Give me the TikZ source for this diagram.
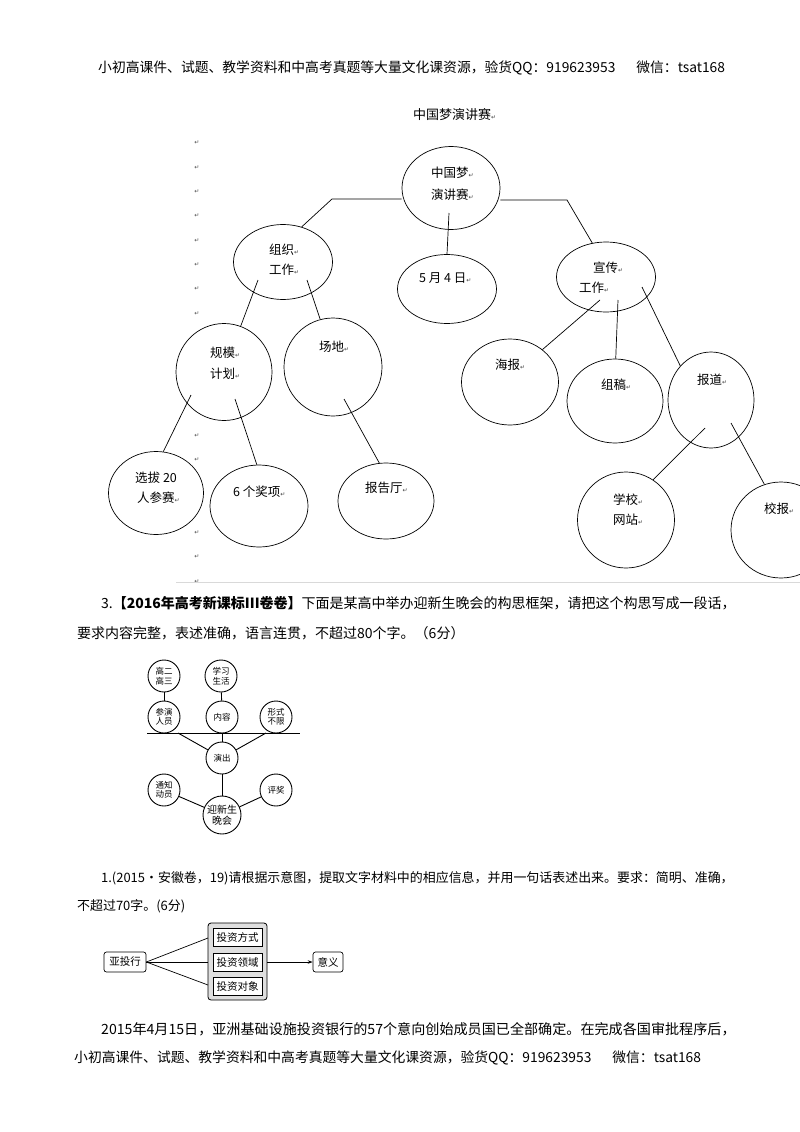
\documentclass[tikz,border=0pt]{standalone}
\usepackage{fontspec}
\setmainfont{Liberation Serif}
\newfontfamily\cjk{Noto Sans CJK SC}
\newfontfamily\dv{DejaVu Sans}
\usetikzlibrary{arrows.meta,shapes.geometric}
\newcommand{\retm}{{\dv\fontsize{6}{6}\selectfont\color{black!75}↵}}
\begin{document}
\begin{tikzpicture}[x=1pt,y=-1pt,
  bub/.style={draw,ellipse,line width=0.7pt,fill=white,inner sep=0pt},
  tx/.style={anchor=west,inner sep=0pt,font=\cjk\fontsize{12.5}{13}\selectfont},
  ln/.style={line width=0.7pt},
  rmark/.style={inner sep=0pt,font=\dv\fontsize{6}{6}\selectfont,text=black!70},
  sc/.style={draw,circle,line width=0.9pt,fill=white,minimum size=32pt,inner sep=0pt,align=center,font=\cjk\fontsize{8.5}{9.5}\selectfont},
  para/.style={anchor=west,inner sep=0pt,font=\cjk\fontsize{14}{14}\selectfont},
  bx/.style={draw,rounded corners=2.5pt,line width=0.7pt,fill=white,inner sep=0pt,font=\cjk\fontsize{10.5}{11}\selectfont},
]
\useasboundingbox (0,0) rectangle (800,1132);
\fill[white] (0,0) rectangle (800,1132);

% header
\node[para,font=\cjk\fontsize{13.8}{14}\selectfont] (hdr) at (98,68) {小初高课件、试题、教学资料和中高考真题等大量文化课资源，验货QQ：919623953\hspace{21pt}微信：tsat168};

% ---------- diagram 1 ----------
\node[tx,font=\cjk\fontsize{13}{13}\selectfont] (title) at (413,115) {中国梦演讲赛\retm};
\foreach \k in {0,...,18}{\node[rmark] (rm\k) at (197,{143+24.35*\k}) {↵};}
\draw[gray!30,line width=0.6pt] (176,582) -- (800,582);

\node[bub,minimum width=98pt,minimum height=83pt] (root) at (451,188) {};
\node[bub,minimum width=99pt,minimum height=75pt] (org) at (283,262) {};
\node[bub,minimum width=99pt,minimum height=69pt] (may) at (447,289) {};
\node[bub,minimum width=99pt,minimum height=70pt] (pub) at (606,277) {};
\node[bub,minimum width=96pt,minimum height=97pt] (plan) at (224,372) {};
\node[bub,minimum width=98pt,minimum height=98pt] (site) at (333,367) {};
\node[bub,minimum width=95pt,minimum height=83pt] (sel) at (156,493) {};
\node[bub,minimum width=98pt,minimum height=82pt] (six) at (259,506) {};
\node[bub,minimum width=96pt,minimum height=76pt] (hall) at (386,501) {};
\node[bub,minimum width=97pt,minimum height=86pt] (post) at (510,382) {};
\node[bub,minimum width=96pt,minimum height=84pt] (art) at (615,401) {};
\node[bub,minimum width=86pt,minimum height=96pt] (rep) at (711,400) {};
\node[bub,minimum width=97pt,minimum height=96pt] (web) at (626,520) {};
\node[bub,minimum width=100pt,minimum height=96pt] (paper) at (781,530) {};

\coordinate (k1) at (332,199);
\coordinate (k2) at (567,200);
\coordinate (s3) at (449,213);
\coordinate (s4) at (258,280);
\coordinate (s5) at (307,280);
\coordinate (s6) at (191,395);
\coordinate (s7) at (235,399);
\coordinate (s8) at (344,399);
\coordinate (s9) at (600,300);
\coordinate (s10) at (618,300);
\coordinate (s11) at (642,287);
\coordinate (s12) at (705,428);
\coordinate (s13) at (731,423);

\draw[ln] (root.west |- k1) -- (k1) -- (org.62);
\draw[ln] (root.east |- k2) -- (k2) -- (pub.112);
\draw[ln] (s3) -- (may.north);
\draw[ln] (s4) -- (plan.70);
\draw[ln] (s5) -- (site.105);
\draw[ln] (s6) -- (sel.80);
\draw[ln] (s7) -- (six.93);
\draw[ln] (s8) -- (hall.100);
\draw[ln] (s9) -- (post.45);
\draw[ln] (s10) -- (art.89);
\draw[ln] (s11) -- (rep.132);
\draw[ln] (s12) -- (web.56);
\draw[ln] (s13) -- (paper.110);

\node[tx] (t1a) at (431,173) {中国梦\retm};
\node[tx] (t1b) at (431,195) {演讲赛\retm};
\node[tx] (t2) at (419,278) {5 月 4 日\retm};
\node[tx] (t3a) at (269,250) {组织\retm};
\node[tx] (t3b) at (269,270) {工作\retm};
\node[tx] (t4a) at (593,268) {宣传\retm};
\node[tx] (t4b) at (579,288) {工作\retm};
\node[tx] (t5a) at (210,353) {规模\retm};
\node[tx] (t5b) at (210,374) {计划\retm};
\node[tx] (t6) at (319,347) {场地\retm};
\node[tx] (t7a) at (135,478) {选拔 20};
\node[tx] (t7b) at (137,498) {人参赛\retm};
\node[tx] (t8) at (233,492) {6 个奖项\retm};
\node[tx] (t9) at (365,488) {报告厅\retm};
\node[tx] (t10) at (495,365) {海报\retm};
\node[tx] (t11) at (601,385) {组稿\retm};
\node[tx] (t12) at (697,380) {报道\retm};
\node[tx] (t13a) at (613,500) {学校\retm};
\node[tx] (t13b) at (613,520) {网站\retm};
\node[tx] (t14) at (764,509) {校报\retm};

% ---------- question 3 ----------
\node[para] (q3a) at (101,603) {3.{\bfseries 【2016年高考新课标III卷卷】}下面是某高中举办迎新生晚会的构思框架，请把这个构思写成一段话，};
\node[para] (q3b) at (77,633) {要求内容完整，表述准确，语言连贯，不超过80个字。（6分）};

% ---------- diagram 2 ----------
\node[sc] (c1) at (164,676) {高二\\高三};
\node[sc] (c2) at (221,676) {学习\\生活};
\node[sc] (c3) at (164,717) {参演\\人员};
\node[sc] (c4) at (222,717) {内容};
\node[sc] (c5) at (276,717) {形式\\不限};
\node[sc] (c6) at (222,758) {演出};
\node[sc] (c7) at (164,790) {通知\\动员};
\node[sc] (c8) at (276,790) {评奖};
\node[sc,minimum size=38pt,font=\cjk\fontsize{10}{11}\selectfont] (c9) at (222,815) {迎新生\\晚会};
\coordinate (b1) at (147,733);
\coordinate (b2) at (300,733);
\coordinate (b3) at (178,733);
\coordinate (b4) at (266,733);
\draw[line width=0.9pt] (b1) -- (b2);
\draw[line width=0.9pt] (c1) -- (c3);
\draw[line width=0.9pt] (c2) -- (c4);
\draw[line width=0.9pt] (c4) -- (c6);
\draw[line width=0.9pt] (b3) -- (c6.150);
\draw[line width=0.9pt] (b4) -- (c6.30);
\draw[line width=0.9pt] (c6) -- (c9);
\draw[line width=0.9pt] (c7) -- (c9);
\draw[line width=0.9pt] (c8) -- (c9);

% ---------- question 1 ----------
\node[para,font=\cjk\fontsize{12.95}{14}\selectfont] (q1a) at (101,878) {1.(2015·安徽卷，19)请根据示意图，提取文字材料中的相应信息，并用一句话表述出来。要求：简明、准确，};
\node[para,font=\cjk\fontsize{12.95}{14}\selectfont] (q1b) at (77,906) {不超过70字。(6分)};

% ---------- diagram 3 ----------
\node[bx,minimum width=42pt,minimum height=20pt] (aiib) at (125,962) {亚投行};
\node[draw,rounded corners=3pt,line width=0.8pt,fill=gray!25,minimum width=59pt,minimum height=77pt,inner sep=0pt] (grp) at (237.5,961.5) {};
\node[bx,rounded corners=0pt,minimum width=49pt,minimum height=18pt] (i1) at (237.5,937) {投资方式};
\node[bx,rounded corners=0pt,minimum width=49pt,minimum height=18pt] (i2) at (237.5,962.5) {投资领域};
\node[bx,rounded corners=0pt,minimum width=49pt,minimum height=18pt] (i3) at (237.5,986.5) {投资对象};
\node[bx,minimum width=30pt,minimum height=20pt] (mean) at (328,962) {意义};
\coordinate (g1) at (208,938);
\coordinate (g3) at (208,985);
\draw[ln] (aiib.east) -- (g1);
\draw[ln] (aiib.east) -- (grp.west |- aiib.east);
\draw[ln] (aiib.east) -- (g3);
\draw[ln,-{Stealth[length=5pt,width=3.5pt]}] (grp.east |- mean.west) -- (mean.west);

% ---------- paragraph + footer ----------
\node[para,font=\cjk\fontsize{14.1}{14}\selectfont] (p1) at (101,1029) {2015年4月15日，亚洲基础设施投资银行的57个意向创始成员国已全部确定。在完成各国审批程序后，};
\node[para,font=\cjk\fontsize{13.8}{14}\selectfont] (ftr) at (74,1058) {小初高课件、试题、教学资料和中高考真题等大量文化课资源，验货QQ：919623953\hspace{21pt}微信：tsat168};
\end{tikzpicture}
\end{document}
